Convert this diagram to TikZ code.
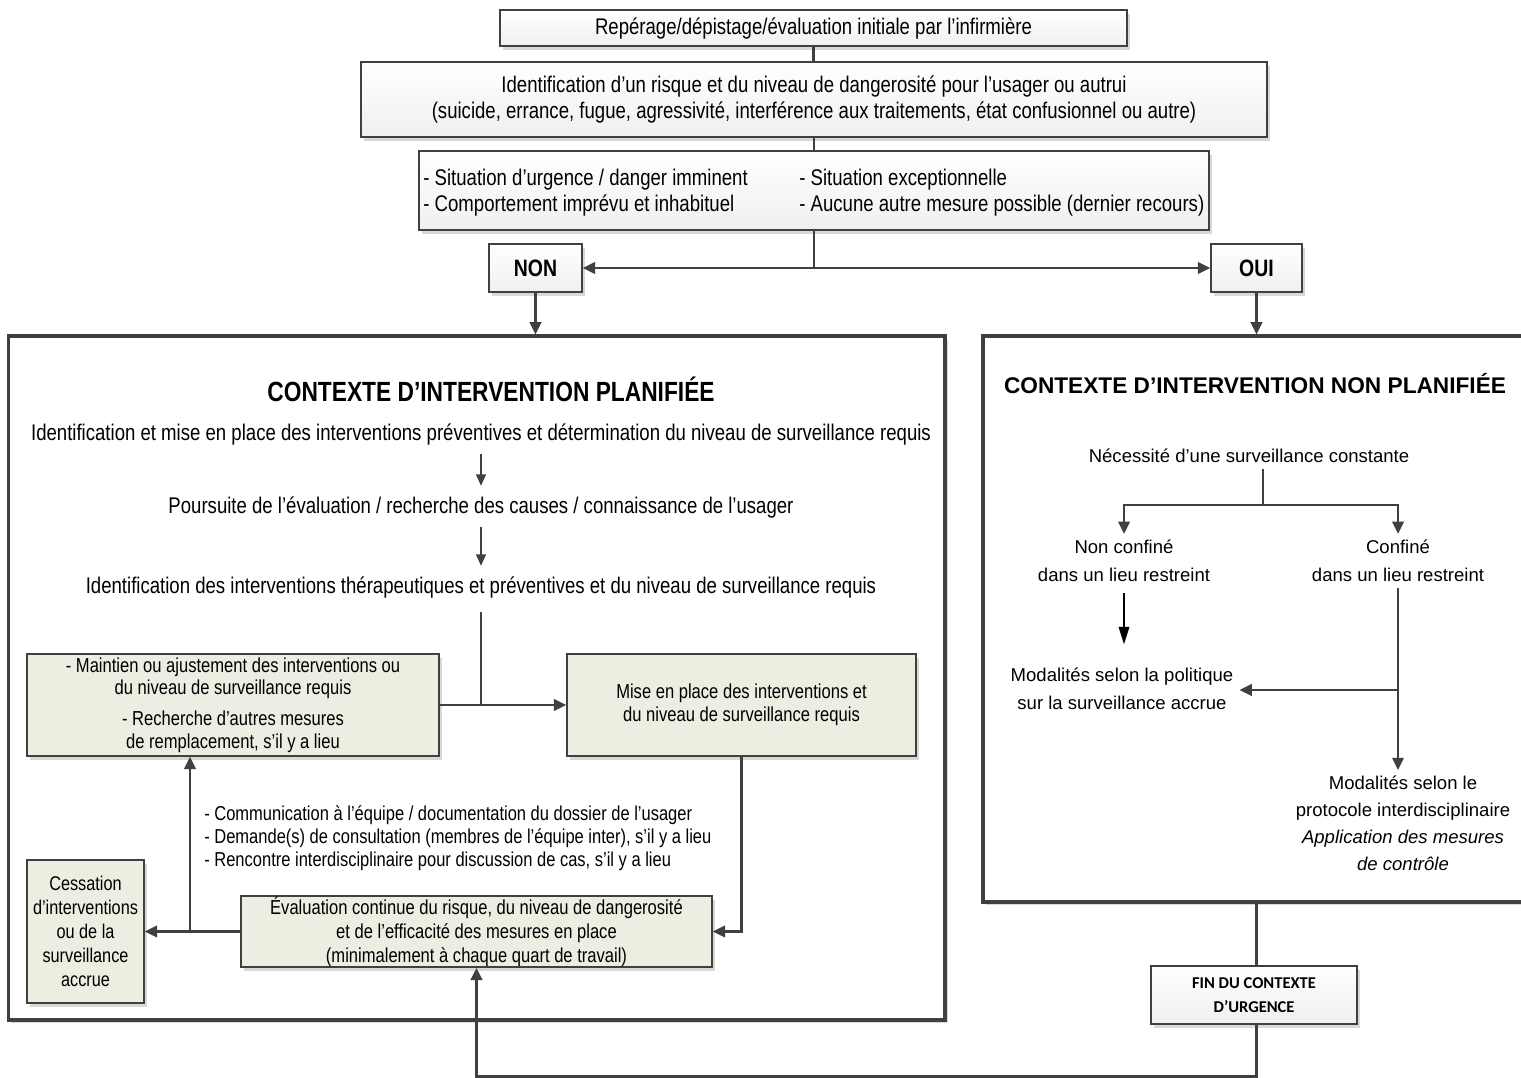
\documentclass[tikz,border=0pt]{standalone}
\usepackage{fontspec}
\setmainfont{Liberation Sans}
\newfontfamily\narrow[FakeStretch=0.82]{Liberation Sans}
\newfontfamily\calfont{Carlito}
\usetikzlibrary{arrows.meta,shadows,calc}
\definecolor{ln}{HTML}{404040}
\definecolor{gfill}{HTML}{ECEEE1}
\tikzset{
 shad/.style={drop shadow={shadow xshift=1.5pt,shadow yshift=-2pt,fill=gray!60,opacity=0.5}},
 topbox/.style={draw=ln,line width=0.9pt,top color=white,bottom color=gray!12,shad,inner sep=0pt,font=\narrow\fontsize{12.9}{14.7}\selectfont,align=center},
 gbox/.style={draw=ln,line width=0.9pt,fill=gfill,shad,inner sep=0pt,font=\narrow\fontsize{11.5}{13}\selectfont,align=center},
 bigbox/.style={draw=ln,line width=1.8pt,fill=white,shad,inner sep=0pt},
 ltxt/.style={font=\narrow\fontsize{12.9}{14}\selectfont,align=center},
 rtxt/.style={font=\fontsize{10.55}{15.9}\selectfont,align=center},
 conn/.style={draw=ln,line width=1.4pt},
 arr/.style={conn,-{Triangle[length=7pt,width=6.5pt]}},
 arrs/.style={draw=ln,line width=1.1pt,-{Triangle[length=6.5pt,width=5.5pt]}},
}
\begin{document}
\begin{tikzpicture}[x=0.02cm,y=-0.02cm]
\useasboundingbox[fill=white] (0,0) rectangle (1521,1078);

% top part
\node[topbox,minimum width=12.54cm,minimum height=0.72cm,text height=9.3pt,text depth=2.2pt] (b1) at (813.5,28) {Repérage/dépistage/évaluation initiale par l’infirmière};
\node[topbox,minimum width=18.12cm,minimum height=1.5cm] (b2) at (814,99.5) {Identification d’un risque et du niveau de dangerosité pour l’usager ou autrui\\(suicide, errance, fugue, agressivité, interférence aux traitements, état confusionnel ou autre)};
\node[topbox,minimum width=15.8cm,minimum height=1.58cm] (b3) at (814,190.5) {};
\node[anchor=west,align=left,inner sep=0pt,font=\narrow\fontsize{12.9}{14.7}\selectfont] (b3l) at (423,192.5) {- Situation d’urgence / danger imminent\\- Comportement imprévu et inhabituel};
\node[anchor=west,align=left,inner sep=0pt,font=\narrow\fontsize{12.9}{14.7}\selectfont] (b3r) at (799,192.5) {- Situation exceptionnelle\\- Aucune autre mesure possible (dernier recours)};
\node[topbox,minimum width=1.86cm,minimum height=0.96cm,font=\narrow\bfseries\fontsize{13.5}{16}\selectfont] (non) at (535.5,268) {NON};
\node[topbox,minimum width=1.82cm,minimum height=0.96cm,font=\narrow\bfseries\fontsize{13.5}{16}\selectfont] (oui) at (1256.5,268) {OUI};

\draw[conn] (b1.south) -- (b1.south |- b2.north);
\draw[conn] (b2.south) -- (b2.south |- b3.north);
\coordinate (sp) at (814,268);
\draw[conn] (b3.south) -- (sp);
\draw[arr] (sp) -- (non.east);
\draw[arr] (sp) -- (oui.west);

% big boxes
\node[bigbox,minimum width=18.74cm,minimum height=13.68cm] (L) at (476.5,678) {};
\node[bigbox,minimum width=10.94cm,minimum height=11.32cm] (R) at (1256.5,619) {};
\draw[arr] (non.south) -- (non.south |- L.north);
\draw[arr] (oui.south) -- (R.north);

% left contents
\node[font=\narrow\bfseries\fontsize{15.8}{18}\selectfont] (Lt) at (491,389) {CONTEXTE D’INTERVENTION PLANIFIÉE};
\node[ltxt] (t1) at (481,435) {Identification et mise en place des interventions préventives et détermination du niveau de surveillance requis};
\node[ltxt] (t2) at (481,508) {Poursuite de l’évaluation / recherche des causes / connaissance de l’usager};
\node[ltxt] (t3) at (481,588) {Identification des interventions thérapeutiques et préventives et du niveau de surveillance requis};
\draw[arrs,shorten <=1pt,shorten >=3pt] (t1) -- (t2);
\draw[arrs,shorten <=1pt,shorten >=3pt] (t2) -- (t3);

\node[gbox,minimum width=8.24cm,minimum height=2.04cm] (A) at (233,705) {- Maintien ou ajustement des interventions ou\\du niveau de surveillance requis\\[4.5pt]- Recherche d’autres mesures\\de remplacement, s’il y a lieu};
\node[gbox,minimum width=6.98cm,minimum height=2.04cm] (B) at (741.5,705) {Mise en place des interventions et\\du niveau de surveillance requis};
\draw[conn,shorten <=4pt] (t3.south) -- (t3.south |- A.east);
\draw[arr] (A.east) -- (B.west);

\node[gbox,minimum width=9.42cm,minimum height=1.42cm,font=\narrow\fontsize{11.5}{13.6}\selectfont] (C) at (476.5,931.5) {Évaluation continue du risque, du niveau de dangerosité\\et de l’efficacité des mesures en place\\(minimalement à chaque quart de travail)};
\node[gbox,minimum width=2.34cm,minimum height=2.86cm,font=\narrow\fontsize{11.3}{13.6}\selectfont] (D) at (85.5,931.5) {Cessation\\d’interventions\\ou de la\\surveillance\\accrue};
\draw[arr] (B.south) |- (C.east);
\draw[arr] (C.west) -- (D.east);
\coordinate (jD) at (190,931.5);
\draw[arr] (jD) -- (jD |- A.south);
\node[anchor=north west,align=left,inner sep=0pt,font=\narrow\fontsize{11.45}{13.3}\selectfont] (lst) at (204,805) {- Communication à l’équipe / documentation du dossier de l’usager\\- Demande(s) de consultation (membres de l’équipe inter), s’il y a lieu\\- Rencontre interdisciplinaire pour discussion de cas, s’il y a lieu};

% right contents
\node[font=\bfseries\fontsize{12.9}{15}\selectfont] (Rt) at (1255,384) {CONTEXTE D’INTERVENTION NON PLANIFIÉE};
\node[rtxt] (nec) at (1249,456) {Nécessité d’une surveillance constante};
\coordinate (rs) at (1263,505);
\draw[conn] (nec.south -| rs) -- (rs);
\node[rtxt] (nc) at (1124,561) {Non confiné\\dans un lieu restreint};
\node[rtxt] (cf) at (1398,561) {Confiné\\dans un lieu restreint};
\draw[arr] (rs) -| (nc.north);
\draw[arr] (rs) -| (cf.north);
\node[rtxt] (m1) at (1122,689) {Modalités selon la politique\\sur la surveillance accrue};
\draw[black,line width=1.1pt,-{Triangle[length=10pt,width=6pt]},shorten <=3pt,shorten >=10pt] (nc.south) -- (nc.south |- m1.north);
\node[rtxt,font=\fontsize{10.55}{15.3}\selectfont] (m2) at (1403,823.5) {Modalités selon le\\protocole interdisciplinaire\\\textit{Application des mesures}\\\textit{de contrôle}};
\draw[arr] (cf.south) -- (cf.south |- m2.north);
\coordinate (cj) at (1398,690);
\draw[arr] (cj) -- (m1.east |- cj);

% end of urgency
\node[topbox,minimum width=4.12cm,minimum height=1.16cm,font=\calfont\bfseries\fontsize{9.4}{13.6}\selectfont] (fin) at (1254,995) {FIN DU CONTEXTE\\D’URGENCE};
\draw[conn,line width=1.8pt] (R.south) -- (R.south |- fin.north);
\draw[arr,line width=1.8pt] (R.south |- fin.south) -- ++(0,51.5) -| (C.south);
\end{tikzpicture}
\end{document}
